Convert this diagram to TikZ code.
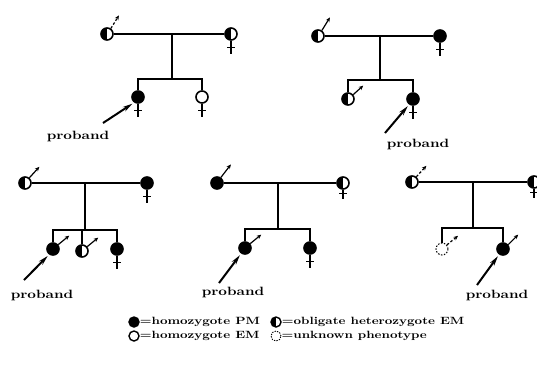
\documentclass[tikz,border=0pt]{standalone}
\usepackage{fontspec}
\newfontfamily\oldface{lmroman10-regular.otf}[FakeStretch=1.25, BoldFont=lmroman10-bold.otf, BoldFeatures={FakeStretch=1.25}]
\usetikzlibrary{arrows.meta}
\tikzset{
  person/.style={circle, draw, line width=1.6pt, minimum size=12pt, inner sep=0pt},
  pm/.style={person, fill=black},
  em/.style={person, fill=white},
  het/.style={person, fill=white, path picture={\fill[black] (path picture bounding box.south west) rectangle (path picture bounding box.north);}},
  unk/.style={person, draw, line width=1pt, dash pattern=on 1.5pt off 1.5pt},
  famline/.style={line width=1.6pt},
  male/.style={line width=1.2pt, -{Stealth[length=4.5pt,width=4pt]}},
  maledash/.style={male, dash pattern=on 2.5pt off 2pt},
  femcross/.style={line width=1.2pt},
  pointer/.style={line width=2pt, shorten >=2pt, -{Stealth[length=10pt,width=5pt]}},
  plabel/.style={font=\oldface\bfseries\fontsize{12}{14}\selectfont, inner sep=0pt},
  key/.style={circle, draw, line width=1.4pt, minimum size=10pt, inner sep=0pt},
  keytext/.style={font=\oldface\bfseries\fontsize{10.5}{12}\selectfont, inner sep=0pt, anchor=west}
}
\begin{document}
\begin{tikzpicture}[x=1pt,y=-1pt]
\useasboundingbox (0,0) rectangle (537,368);

% ---------- family 1 ----------
\node[het] (f1) at (107,34) {};
\node[het] (m1) at (231,34) {};
\coordinate (d1) at (172,34);
\coordinate (s1) at (172,79);
\node[pm] (c11) at (138,97) {};
\node[em] (c12) at (202,97) {};
\draw[famline] (f1) -- (m1);
\draw[famline] (d1) -- (s1);
\draw[famline] (c11) |- (s1) -| (c12);
\draw[maledash] (f1.55) -- ++(8,-13);
\draw[femcross] (m1.south) -- ++(0,13) (m1.south) ++(-4,7) -- ++(8,0);
\draw[femcross] (c11.south) -- ++(0,13) (c11.south) ++(-4,7) -- ++(8,0);
\draw[femcross] (c12.south) -- ++(0,13) (c12.south) ++(-4,7) -- ++(8,0);
\node[plabel] (p1) at (78,136) {proband};
\coordinate (a1) at (103,123);
\draw[pointer] (a1) -- (c11.235);

% ---------- family 2 ----------
\node[het] (f2) at (318,36) {};
\node[pm] (m2) at (440,36) {};
\coordinate (d2) at (380,36);
\coordinate (s2) at (380,80);
\node[het] (c21) at (348,99) {};
\node[pm] (c22) at (413,99) {};
\draw[famline] (f2) -- (m2);
\draw[famline] (d2) -- (s2);
\draw[famline] (c21) |- (s2) -| (c22);
\draw[male] (f2.55) -- ++(8,-13);
\draw[male] (c21.40) -- ++(10,-9);
\draw[femcross] (m2.south) -- ++(0,13) (m2.south) ++(-4,7) -- ++(8,0);
\draw[femcross] (c22.south) -- ++(0,13) (c22.south) ++(-4,7) -- ++(8,0);
\node[plabel] (p2) at (418,144) {proband};
\coordinate (a2) at (385,133);
\draw[pointer] (a2) -- (c22.235);

% ---------- family 3 ----------
\node[het] (f3) at (25,183) {};
\node[pm] (m3) at (147,183) {};
\coordinate (d3) at (85,183);
\coordinate (s3) at (85,230);
\node[pm] (c31) at (53,249) {};
\node[het] (c32) at (82,251) {};
\node[pm] (c33) at (117,249) {};
\draw[famline] (f3) -- (m3);
\draw[famline] (d3) -- (s3);
\draw[famline] (c31) |- (s3) -| (c33);
\draw[famline] (c32) -- (c32 |- s3);
\draw[male] (f3.50) -- ++(10,-11);
\draw[male] (c31.40) -- ++(11,-9);
\draw[male] (c32.40) -- ++(11,-9);
\draw[femcross] (m3.south) -- ++(0,13) (m3.south) ++(-4,7) -- ++(8,0);
\draw[femcross] (c33.south) -- ++(0,13) (c33.south) ++(-4,7) -- ++(8,0);
\node[plabel] (p3) at (42,295) {proband};
\coordinate (a3) at (24,280);
\draw[pointer] (a3) -- (c31.235);

% ---------- family 4 ----------
\node[pm] (f4) at (217,183) {};
\node[het] (m4) at (343,183) {};
\coordinate (d4) at (278,183);
\coordinate (s4) at (278,229);
\node[pm] (c41) at (245,248) {};
\node[pm] (c42) at (310,248) {};
\draw[famline] (f4) -- (m4);
\draw[famline] (d4) -- (s4);
\draw[famline] (c41) |- (s4) -| (c42);
\draw[male] (f4.55) -- ++(10,-13);
\draw[male] (c41.40) -- ++(11,-9);
\draw[femcross] (m4.south) -- ++(0,9) (m4.south) ++(-4,4) -- ++(8,0);
\draw[femcross] (c42.south) -- ++(0,13) (c42.south) ++(-4,7) -- ++(8,0);
\node[plabel] (p4) at (233,292) {proband};
\coordinate (a4) at (219,283);
\draw[pointer] (a4) -- (c41.235);

% ---------- family 5 ----------
\node[het] (f5) at (412,182) {};
\node[het] (m5) at (534,182) {};
\coordinate (d5) at (473,182);
\coordinate (s5) at (473,228);
\node[unk] (c51) at (442,249) {};
\node[pm] (c52) at (503,249) {};
\draw[famline] (f5) -- (m5);
\draw[famline] (d5) -- (s5);
\draw[famline] (c51) |- (s5) -| (c52);
\draw[maledash] (f5.50) -- ++(10,-11);
\draw[maledash] (c51.40) -- ++(11,-9);
\draw[male] (c52.40) -- ++(10,-10);
\draw[femcross] (m5.south) -- ++(0,9) (m5.south) ++(-4,4) -- ++(8,0);
\node[plabel] (p5) at (497,295) {proband};
\coordinate (a5) at (477,285);
\draw[pointer] (a5) -- (c52.235);

% ---------- key ----------
\node[key, fill=black] (k1) at (134,322) {};
\node[keytext] (t1) at (k1.east) {=homozygote PM};
\node[key, fill=white] (k2) at (134,336) {};
\node[keytext] (t2) at (k2.east) {=homozygote EM};
\node[key, fill=white, path picture={\fill[black] (path picture bounding box.south west) rectangle (path picture bounding box.north);}] (k3) at (276,322) {};
\node[keytext] (t3) at (k3.east) {=obligate heterozygote EM};
\node[key, line width=0.9pt, dash pattern=on 1.3pt off 1.3pt] (k4) at (276,336) {};
\node[keytext] (t4) at (k4.east) {=unknown phenotype};
\end{tikzpicture}
\end{document}
